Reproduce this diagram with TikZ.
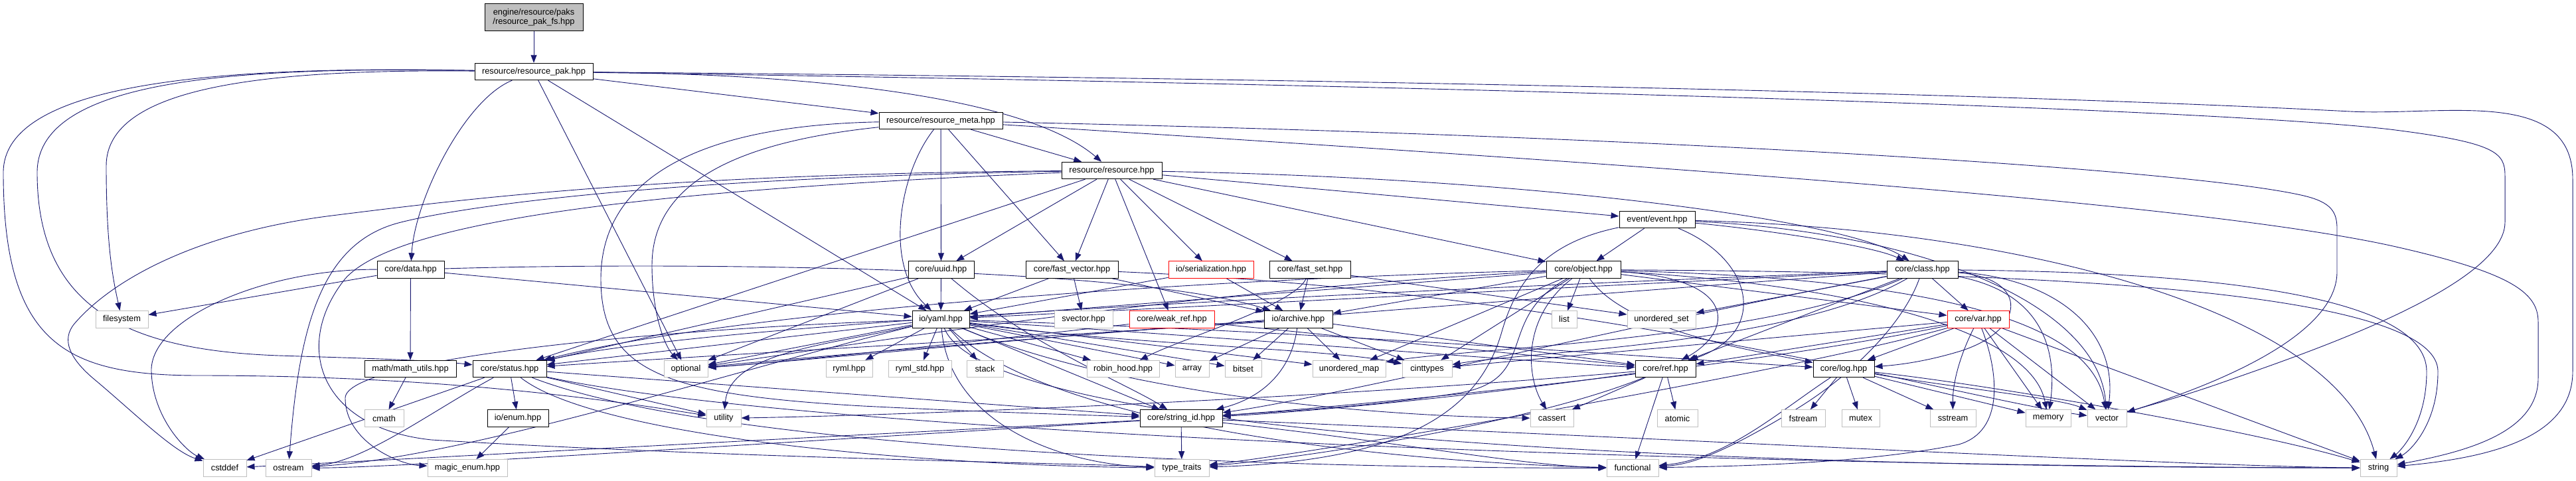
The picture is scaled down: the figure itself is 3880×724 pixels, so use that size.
\documentclass[tikz,border=0pt]{standalone}
\usepackage{fontspec}
\setmainfont{Liberation Sans}
\usetikzlibrary{arrows.meta,backgrounds}
\definecolor{edgec}{HTML}{191970}
\definecolor{sysc}{HTML}{BFBFBF}
\definecolor{rootc}{HTML}{BFBFBF}
\newcommand\nodefnt{\fontsize{12.8pt}{14.5pt}\selectfont}
\tikzset{
  box/.style={draw=black, line width=1pt, fill=white, minimum height=25.4pt, inner sep=0pt, font=\nodefnt},
  sys/.style={box, draw=sysc},
  trunc/.style={box, draw=red},
  dep/.style={draw=edgec, line width=0.9pt, -{Triangle[length=12pt,width=9pt]}}
}
\begin{document}
\begin{tikzpicture}[x=1pt,y=-1pt]
\useasboundingbox (0,0) rectangle (3880,724);
% row 0-4
\node[box, fill=rootc, minimum width=148pt, minimum height=41pt, align=center] (engine) at (804,26) {engine/resource/paks\\/resource\_pak\_fs.hpp};
\node[box, minimum width=178pt] (pak) at (804,108) {resource/resource\_pak.hpp};
\node[box, minimum width=186pt] (meta) at (1417,182) {resource/resource\_meta.hpp};
\node[box, minimum width=151pt] (resource) at (1674.5,257) {resource/resource.hpp};
\node[box, minimum width=114pt] (event) at (2496,331) {event/event.hpp};
% row 5
\node[box, minimum width=101pt] (data) at (618.5,406.5) {core/data.hpp};
\node[box, minimum width=99pt] (uuid) at (1417.5,406.5) {core/uuid.hpp};
\node[box, minimum width=139pt] (fastvec) at (1614.5,406.5) {core/fast\_vector.hpp};
\node[trunc, minimum width=128pt] (serial) at (1824,406.5) {io/serialization.hpp};
\node[box, minimum width=122pt] (fastset) at (1973,406.5) {core/fast\_set.hpp};
\node[box, minimum width=112pt] (object) at (2385,406.5) {core/object.hpp};
\node[box, minimum width=107pt] (class) at (2895.5,406.5) {core/class.hpp};
% row 6
\node[sys, minimum width=79pt] (filesystem) at (183.5,481.3) {filesystem};
\node[box, minimum width=86pt] (yaml) at (1417,481.3) {io/yaml.hpp};
\node[sys, minimum width=88pt] (svector) at (1632,481.3) {svector.hpp};
\node[trunc, minimum width=128pt] (weakref) at (1765,481.3) {core/weak\_ref.hpp};
\node[box, minimum width=103pt] (archive) at (1955.5,481.3) {io/archive.hpp};
\node[sys, minimum width=38pt] (list) at (2356,481.3) {list};
\node[sys, minimum width=103pt] (uset) at (2502.5,481.3) {unordered\_set};
\node[trunc, minimum width=93pt] (var) at (2979.5,481.3) {core/var.hpp};
% row 7
\node[box, minimum width=138pt] (mathutils) at (618,556) {math/math\_utils.hpp};
\node[box, minimum width=111pt] (status) at (767.5,556) {core/status.hpp};
\node[sys, minimum width=66pt] (optional) at (1033,556) {optional};
\node[sys, minimum width=70pt] (ryml) at (1279,556) {ryml.hpp};
\node[sys, minimum width=95pt] (rymlstd) at (1385.5,556) {ryml\_std.hpp};
\node[sys, minimum width=55pt] (stack) at (1483.5,556) {stack};
\node[sys, minimum width=109pt] (robin) at (1691.5,556) {robin\_hood.hpp};
\node[sys, minimum width=51pt] (array) at (1795.5,556) {array};
\node[sys, minimum width=55pt] (bitset) at (1872.5,556) {bitset};
\node[sys, minimum width=110pt] (umap) at (2032,556) {unordered\_map};
\node[sys, minimum width=75pt] (cinttypes) at (2149.5,556) {cinttypes};
\node[box, minimum width=91pt] (ref) at (2508.5,556) {core/ref.hpp};
\node[box, minimum width=92pt] (log) at (2777,556) {core/log.hpp};
% row 8
\node[sys, minimum width=59pt] (cmath) at (578.5,630.5) {cmath};
\node[box, minimum width=92pt] (enum) at (780,630.5) {io/enum.hpp};
\node[sys, minimum width=52pt] (utility) at (1090,630.5) {utility};
\node[box, minimum width=124pt] (stringid) at (1779,630.5) {core/string\_id.hpp};
\node[sys, minimum width=65pt] (cassert) at (2337.5,630.5) {cassert};
\node[sys, minimum width=61pt] (atomic) at (2526.5,630.5) {atomic};
\node[sys, minimum width=66pt] (fstream) at (2716,630.5) {fstream};
\node[sys, minimum width=57pt] (mutex) at (2802.5,630.5) {mutex};
\node[sys, minimum width=69pt] (sstream) at (2941.5,630.5) {sstream};
\node[sys, minimum width=68pt] (memory) at (3085,630.5) {memory};
\node[sys, minimum width=59pt] (vector) at (3173.5,630.5) {vector};
% row 9
\node[sys, minimum width=65pt] (cstddef) at (338.5,705.3) {cstddef};
\node[sys, minimum width=69pt] (ostream) at (434.5,705.3) {ostream};
\node[sys, minimum width=120pt] (magic) at (704,705.3) {magic\_enum.hpp};
\node[sys, minimum width=82pt] (typetraits) at (1780,705.3) {type\_traits};
\node[sys, minimum width=78pt] (functional) at (2459,705.3) {functional};
\node[sys, minimum width=55pt] (string) at (3582.5,705.3) {string};

\begin{scope}[on background layer]
% engine, pak
\draw[dep] (engine) -- (pak);
\draw[dep] (pak) .. controls (700,150) and (625,300) .. (data);
\draw[dep] (pak) .. controls (400,104) and (160,130) .. (160,250) .. controls (160,370) and (170,420) .. (filesystem);
\draw[dep] (pak) .. controls (350,100) and (56,120) .. (56,260) .. controls (56,470) and (200,528) .. (420,536) .. controls (550,540) and (650,543) .. (status);
\draw[dep] (pak) .. controls (300,98) and (5,130) .. (5,260) .. controls (5,520) and (100,566) .. (300,566) .. controls (650,566) and (900,600) .. (utility);
\draw[dep] (pak) -- (optional);
\draw[dep] (pak) -- (yaml);
\draw[dep] (pak) -- (meta);
\draw[dep] (pak) .. controls (1250,112) and (1550,150) .. (resource);
\draw[dep] (pak) .. controls (2000,118) and (3000,140) .. (3540,168) .. controls (3680,175) and (3875,130) .. (3875,270) -- (3875,560) .. controls (3875,660) and (3750,690) .. (string);
\draw[dep] (pak) .. controls (2000,125) and (3300,160) .. (3600,195) .. controls (3760,215) and (3773,230) .. (3773,265) -- (3773,335) .. controls (3773,430) and (3480,530) .. (3360,572) .. controls (3290,597) and (3240,610) .. (vector);
% meta
\draw[dep] (meta) -- (resource);
\draw[dep] (meta) -- (fastvec);
\draw[dep] (meta) -- (uuid);
\draw[dep] (meta) .. controls (1355,260) and (1330,400) .. (yaml);
\draw[dep] (meta) .. controls (1100,215) and (982,280) .. (982,400) .. controls (982,470) and (1000,520) .. (optional);
\draw[dep] (meta) .. controls (1000,190) and (905,300) .. (905,420) .. controls (905,560) and (1000,595) .. (1300,612) .. controls (1500,622) and (1650,626) .. (stringid);
\draw[dep] (meta) .. controls (2500,205) and (3300,255) .. (3470,295) .. controls (3512,305) and (3520,320) .. (3520,345) -- (3520,410) .. controls (3520,510) and (3320,585) .. (vector);
\draw[dep] (meta) .. controls (2500,250) and (3300,305) .. (3600,370) .. controls (3780,410) and (3823,440) .. (3823,485) -- (3823,570) .. controls (3823,650) and (3720,680) .. (string);
% resource
\draw[dep] (resource) -- (uuid);
\draw[dep] (resource) -- (fastvec);
\draw[dep] (resource) -- (weakref);
\draw[dep] (resource) -- (serial);
\draw[dep] (resource) -- (fastset);
\draw[dep] (resource) -- (event);
\draw[dep] (resource) -- (object);
\draw[dep] (resource) .. controls (2300,268) and (2780,330) .. (class);
\draw[dep] (resource) -- (status);
\draw[dep] (resource) .. controls (1000,262) and (700,300) .. (500,325) .. controls (300,350) and (170,420) .. (112,488) .. controls (92,512) and (105,540) .. (140,570) .. controls (200,620) and (260,680) .. (cstddef);
\draw[dep] (resource) .. controls (1000,268) and (700,310) .. (600,336) .. controls (480,368) and (450,500) .. (ostream);
\draw[dep] (resource) .. controls (1000,285) and (600,330) .. (520,420) .. controls (440,520) and (480,645) .. (650,663) .. controls (1100,690) and (1600,698) .. (typetraits);
% event
\draw[dep] (event) -- (object);
\draw[dep] (event) .. controls (2650,345) and (2820,370) .. (class);
\draw[dep] (event) .. controls (2640,390) and (2665,500) .. (ref);
\draw[dep] (event) .. controls (2330,365) and (2285,420) .. (2262,500) .. controls (2225,630) and (2100,695) .. (typetraits);
\draw[dep] (event) .. controls (2900,350) and (3160,460) .. (vector);
\draw[dep] (event) .. controls (3050,345) and (3520,470) .. (string);
% data
\draw[dep] (data) -- (filesystem);
\draw[dep] (data) -- (mathutils);
\draw[dep] (data) .. controls (400,405) and (225,480) .. (228,560) .. controls (230,630) and (280,680) .. (cstddef);
\draw[dep] (data) -- (yaml);
\draw[dep] (data) .. controls (1000,395) and (1700,400) .. (archive);
% uuid
\draw[dep] (uuid) -- (yaml);
\draw[dep] (uuid) -- (status);
\draw[dep] (uuid) -- (optional);
\draw[dep] (uuid) .. controls (1550,520) and (1700,580) .. (stringid);
% fast_vector
\draw[dep] (fastvec) -- (svector);
\draw[dep] (fastvec) -- (yaml);
\draw[dep] (fastvec) -- (archive);
\draw[dep] (fastvec) .. controls (2400,440) and (2950,600) .. (vector);
% serialization
\draw[dep] (serial) -- (yaml);
\draw[dep] (serial) -- (archive);
% fast_set
\draw[dep] (fastset) -- (archive);
\draw[dep] (fastset) .. controls (1950,460) and (1780,510) .. (robin);
\draw[dep] (fastset) -- (uset);
% object
\draw[dep] (object) -- (list);
\draw[dep] (object) -- (archive);
\draw[dep] (object) -- (yaml);
\draw[dep] (object) -- (var);
\draw[dep] (object) .. controls (1800,420) and (1100,470) .. (status);
\draw[dep] (object) .. controls (1800,435) and (1250,525) .. (optional);
\draw[dep] (object) -- (cinttypes);
\draw[dep] (object) -- (umap);
\draw[dep] (object) .. controls (2620,420) and (2610,500) .. (ref);
\draw[dep] (object) .. controls (2450,500) and (2650,530) .. (log);
\draw[dep] (object) .. controls (2290,480) and (2300,570) .. (cassert);
\draw[dep] (object) .. controls (2250,480) and (2320,570) .. (2200,592) .. controls (2050,615) and (1900,622) .. (stringid);
\draw[dep] (object) .. controls (2800,430) and (3060,500) .. (memory);
\draw[dep] (object) .. controls (2900,420) and (3150,480) .. (vector);
\draw[dep] (object) .. controls (3000,410) and (3672,430) .. (3672,560) .. controls (3672,640) and (3630,680) .. (string);
% class
\draw[dep] (class) -- (var);
\draw[dep] (class) -- (uset);
\draw[dep] (class) -- (yaml);
\draw[dep] (class) .. controls (2300,430) and (1100,480) .. (status);
\draw[dep] (class) .. controls (2300,450) and (1300,530) .. (optional);
\draw[dep] (class) .. controls (2700,520) and (2300,530) .. (cinttypes);
\draw[dep] (class) .. controls (2650,515) and (2200,525) .. (umap);
\draw[dep] (class) -- (ref);
\draw[dep] (class) .. controls (3060,420) and (3050,500) .. (2950,530) .. controls (2900,545) and (2860,550) .. (log);
\draw[dep] (class) .. controls (3070,440) and (3100,520) .. (memory);
\draw[dep] (class) .. controls (3100,420) and (3190,500) .. (vector);
\draw[dep] (class) .. controls (3300,410) and (3655,440) .. (3655,560) .. controls (3655,640) and (3615,680) .. (string);
\draw[dep] (class) .. controls (2870,480) and (2800,560) .. (2700,620) .. controls (2600,680) and (2550,700) .. (functional);
\draw[dep] (class) .. controls (2500,480) and (2000,600) .. (stringid);
% yaml
\draw[dep] (yaml) -- (ryml);
\draw[dep] (yaml) -- (rymlstd);
\draw[dep] (yaml) -- (stack);
\draw[dep] (yaml) -- (robin);
\draw[dep] (yaml) -- (array);
\draw[dep] (yaml) -- (bitset);
\draw[dep] (yaml) -- (umap);
\draw[dep] (yaml) .. controls (1700,520) and (2000,525) .. (cinttypes);
\draw[dep] (yaml) -- (status);
\draw[dep] (yaml) -- (optional);
\draw[dep] (yaml) .. controls (1250,520) and (1100,530) .. (utility);
\draw[dep] (yaml) -- (stringid);
\draw[dep] (yaml) .. controls (1430,640) and (1600,700) .. (typetraits);
\draw[dep] (yaml) .. controls (1600,660) and (2200,700) .. (functional);
\draw[dep] (yaml) .. controls (1500,690) and (3000,705) .. (string);
\draw[dep] (yaml) .. controls (1700,600) and (2100,628) .. (cassert);
\draw[dep] (yaml) .. controls (1100,560) and (700,690) .. (ostream);
\draw[dep] (yaml) .. controls (1800,505) and (2300,545) .. (ref);
\draw[dep] (yaml) .. controls (2000,500) and (2500,540) .. (log);
\draw[dep] (yaml) .. controls (1000,495) and (520,540) .. (520,600) .. controls (520,665) and (600,700) .. (magic);
% archive
\draw[dep] (archive) -- (array);
\draw[dep] (archive) -- (bitset);
\draw[dep] (archive) -- (umap);
\draw[dep] (archive) -- (cinttypes);
\draw[dep] (archive) .. controls (1945,560) and (1900,600) .. (stringid);
\draw[dep] (archive) .. controls (1700,500) and (1000,540) .. (status);
\draw[dep] (archive) .. controls (1700,495) and (1200,545) .. (optional);
\draw[dep] (archive) -- (ref);
% weak_ref
\draw[dep] (weakref) -- (ref);
\draw[dep] (weakref) .. controls (1600,500) and (1200,545) .. (optional);
% var
\draw[dep] (var) -- (log);
\draw[dep] (var) .. controls (2950,540) and (2941,580) .. (sstream);
\draw[dep] (var) -- (memory);
\draw[dep] (var) -- (vector);
\draw[dep] (var) -- (string);
\draw[dep] (var) -- (ref);
\draw[dep] (var) .. controls (3010,560) and (3020,650) .. (2950,670) .. controls (2800,700) and (2600,703) .. (functional);
\draw[dep] (var) .. controls (2700,560) and (2000,680) .. (typetraits);
\draw[dep] (var) .. controls (2600,560) and (2000,615) .. (stringid);
\draw[dep] (var) -- (cinttypes);
% status
\draw[dep] (status) -- (enum);
\draw[dep] (status) -- (cstddef);
\draw[dep] (status) .. controls (650,620) and (550,695) .. (ostream);
\draw[dep] (status) -- (stringid);
\draw[dep] (status) -- (utility);
\draw[dep] (status) .. controls (1200,650) and (2500,702) .. (string);
\draw[dep] (status) .. controls (900,660) and (1400,702) .. (typetraits);
\draw[dep] (status) .. controls (1100,685) and (2000,706) .. (functional);
% string_id
\draw[dep] (stringid) -- (typetraits);
\draw[dep] (stringid) .. controls (2500,660) and (3300,703) .. (string);
\draw[dep] (stringid) .. controls (1200,660) and (500,698) .. (cstddef);
\draw[dep] (stringid) .. controls (1200,665) and (600,705) .. (ostream);
\draw[dep] (stringid) .. controls (2100,665) and (2300,703) .. (functional);
% small ones
\draw[dep] (enum) -- (magic);
\draw[dep] (mathutils) -- (cmath);
% ref
\draw[dep] (ref) -- (cassert);
\draw[dep] (ref) -- (atomic);
\draw[dep] (ref) -- (functional);
\draw[dep] (ref) .. controls (2300,640) and (1950,692) .. (typetraits);
\draw[dep] (ref) .. controls (2000,600) and (1400,625) .. (utility);
\draw[dep] (ref) .. controls (2200,600) and (1950,622) .. (stringid);
% log
\draw[dep] (log) -- (fstream);
\draw[dep] (log) -- (mutex);
\draw[dep] (log) -- (sstream);
\draw[dep] (log) -- (memory);
\draw[dep] (log) .. controls (2950,585) and (3100,600) .. (vector);
\draw[dep] (log) .. controls (3000,580) and (3400,650) .. (string);
\draw[dep] (log) .. controls (2680,620) and (2600,692) .. (functional);
\end{scope}
\end{tikzpicture}
\end{document}
